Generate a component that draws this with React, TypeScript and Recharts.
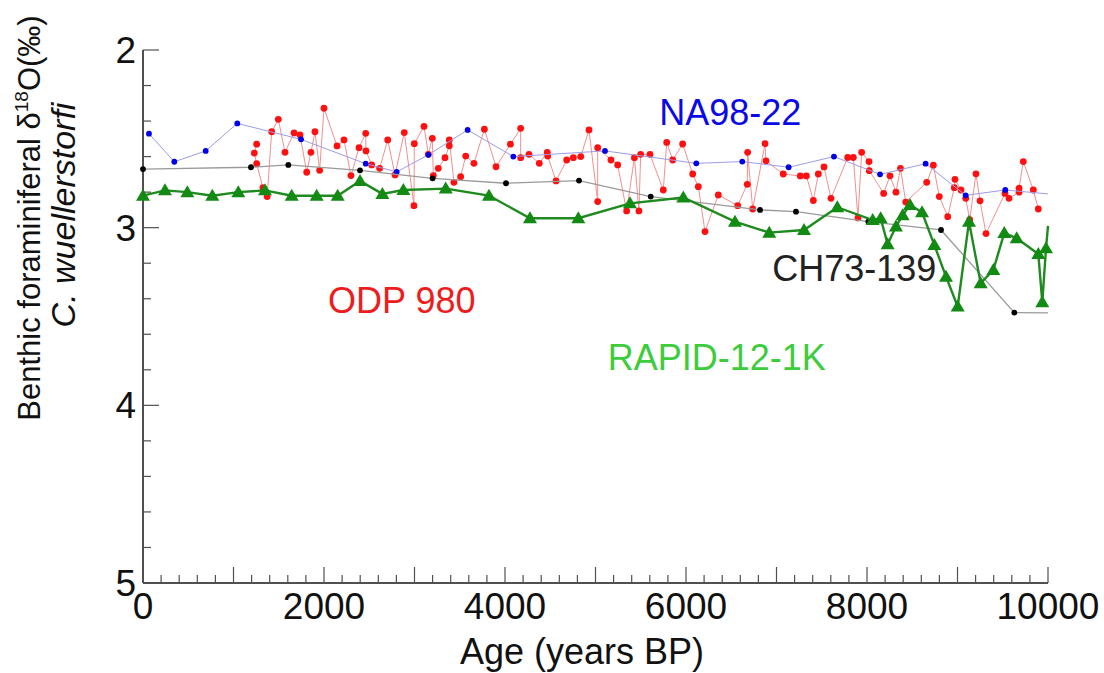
import React from "react";
import { ScatterChart, Scatter, XAxis, YAxis, ReferenceDot, Label } from "recharts";

const FONT = "'Liberation Sans', Arial, Helvetica, sans-serif";
const FRAME = "#505050";
const TEXT = "#111111";

// ODP 980 (red)
const odpAge = [
  1256, 1230, 1256, 1325, 1372, 1422, 1495, 1569, 1669, 1735, 1809, 1856, 1900, 1952, 2000,
  2144, 2221, 2298, 2387, 2461, 2464, 2527, 2615, 2704, 2785, 2887, 2994, 2998, 3105, 3153,
  3197, 3208, 3263, 3337, 3385, 3385, 3436, 3510, 3566, 3657, 3772, 3901, 4060, 4173, 4173,
  4265, 4379, 4467, 4472, 4564, 4682, 4755, 4837, 4928, 5024, 5024, 5171, 5245, 5344, 5430,
  5480, 5499, 5602, 5749, 5787, 5853, 5963, 6074, 6136, 6210, 6357, 6571, 6677, 6681, 6737,
  6873, 6884, 7075, 7263, 7330, 7407, 7462, 7525, 7602, 7787, 7849, 7900, 7941, 8022, 8025,
  8184, 8254, 8320, 8370, 8428, 8660, 8733, 8799, 8892, 8965, 8972, 9039, 9091, 9135, 9204,
  9249, 9315, 9525, 9569, 9680, 9680, 9727, 9838, 9893,
];
const odpD18O = [
  2.53, 2.58, 2.64, 2.775, 2.825, 2.46, 2.39, 2.576, 2.467, 2.478, 2.688, 2.576, 2.46, 2.677, 2.328,
  2.54, 2.506, 2.707, 2.55, 2.469, 2.568, 2.647, 2.666, 2.506, 2.703, 2.465, 2.876, 2.527, 2.43, 2.587,
  2.497, 2.707, 2.666, 2.606, 2.539, 2.506, 2.745, 2.713, 2.597, 2.638, 2.446, 2.657, 2.53, 2.441, 2.606,
  2.587, 2.638, 2.576, 2.597, 2.737, 2.619, 2.606, 2.6, 2.45, 2.853, 2.55, 2.619, 2.647, 2.906, 2.606,
  2.906, 2.587, 2.587, 2.788, 2.52, 2.619, 2.529, 2.698, 2.769, 3.022, 2.816, 2.876, 2.756, 2.576, 2.895,
  2.527, 2.624, 2.698, 2.709, 2.709, 2.847, 2.698, 2.658, 2.835, 2.605, 2.605, 2.945, 2.576, 2.628, 2.679,
  2.807, 2.708, 2.8, 2.666, 2.856, 2.745, 2.648, 2.825, 2.938, 2.775, 2.728, 2.788, 2.835, 2.955, 2.697,
  2.849, 3.033, 2.807, 2.835, 2.8, 2.778, 2.628, 2.788, 2.895,
];

// NA98-22 (blue)
const naAge = [66, 346, 693, 1042, 1746, 2461, 2803, 3153, 3587, 4092, 5105, 6114, 6622, 7134, 7635, 8144, 8648, 9090, 9528, 10000];
const naD18O = [2.471, 2.629, 2.568, 2.413, 2.503, 2.64, 2.686, 2.59, 2.45, 2.6, 2.568, 2.638, 2.628, 2.66, 2.6, 2.7, 2.64, 2.818, 2.788, 2.81];

// CH73-139 (black)
const chAge = [0, 1193, 1606, 2398, 3200, 4011, 4818, 5610, 6818, 7215, 8015, 8818, 9628, 10000];
const chD18O = [2.67, 2.66, 2.647, 2.677, 2.722, 2.75, 2.735, 2.825, 2.9, 2.91, 2.966, 3.013, 3.478, 3.48];

// RAPID-12-1K (green)
const rapidAge = [
  0, 243, 490, 766, 1053, 1348, 1643, 1919, 2151, 2398, 2645, 2877, 3345, 3823, 4276, 4810, 5381, 5970,
  6541, 6920, 7304, 7672, 8063, 8151, 8228, 8320, 8394, 8475, 8608, 8744, 8873, 9002, 9127, 9256, 9396,
  9517, 9654, 9893, 9937, 9978, 10000,
];
const rapidD18O = [
  2.82, 2.79, 2.8, 2.82, 2.8, 2.79, 2.82, 2.82, 2.82, 2.737, 2.81, 2.788, 2.78, 2.82, 2.947, 2.947, 2.863, 2.83,
  2.966, 3.028, 3.013, 2.885, 2.957, 2.947, 3.093, 2.994, 2.93, 2.872, 2.913, 3.097, 3.276, 3.444, 2.966, 3.313, 3.238,
  3.03, 3.06, 3.148, 3.42, 3.116, 2.99,
];

const ageTicks = [
  0, 200, 400, 600, 800, 1000, 1200, 1400, 1600, 1800, 2000, 2200, 2400, 2600, 2800, 3000, 3200, 3400,
  3600, 3800, 4000, 4200, 4400, 4600, 4800, 5000, 5200, 5400, 5600, 5800, 6000, 6200, 6400, 6600, 6800,
  7000, 7200, 7400, 7600, 7800, 8000, 8200, 8400, 8600, 8800, 9000, 9200, 9400, 9600, 9800, 10000,
];
const d18OTicks = [2, 2.2, 2.4, 2.6, 2.8, 3, 3.2, 3.4, 3.6, 3.8, 4, 4.2, 4.4, 4.6, 4.8, 5];

const seriesNames = ["ODP 980", "NA98-22", "CH73-139", "RAPID-12-1K"];

// where each series name sits, in data units
const nameSpots = [
  { name: "ODP 980", age: 2860, d18O: 3.41, color: "#ee1c1c" },
  { name: "NA98-22", age: 6490, d18O: 2.35, color: "#0a0ae6" },
  { name: "CH73-139", age: 7860, d18O: 3.23, color: "#222222" },
  { name: "RAPID-12-1K", age: 6340, d18O: 3.73, color: "#3ccc3c" },
];

const toPoints = (ages: number[], vals: number[]) => ages.map((age, i) => ({ age, d18O: vals[i] }));

// points at the frame edge only carry the line out, no marker
const atEdge = (p: any) => p.payload && p.payload.age >= 10000;

const dot = (r: number, fill: string) => (p: any) =>
  atEdge(p) ? <g /> : <circle cx={p.cx} cy={p.cy} r={r} fill={fill} />;

const triangle = (fill: string) => (p: any) =>
  atEdge(p) ? <g /> : (
    <polygon points={`${p.cx},${p.cy - 7} ${p.cx - 7},${p.cy + 5} ${p.cx + 7},${p.cy + 5}`} fill={fill} />
  );

const isMajorAge = (v: number) => v % 1000 === 0;
const isMajorD = (v: number) => Math.abs(v - Math.round(v)) < 1e-9;

function BottomTick({ x, y, payload }: any) {
  const v = payload.value;
  return (
    <g>
      <line x1={x} x2={x} y1={y} y2={y - (isMajorAge(v) ? 16 : 8)} stroke={FRAME} strokeWidth={1.2} />
      {v % 2000 === 0 && (
        <text x={x} y={y + 10} dy="0.71em" textAnchor="middle" fontSize={37} fill={TEXT}>{v}</text>
      )}
    </g>
  );
}

function TopTick({ x, y, payload }: any) {
  const v = payload.value;
  return <line x1={x} x2={x} y1={y} y2={y + (isMajorAge(v) ? 16 : 8)} stroke={FRAME} strokeWidth={1.2} />;
}

function LeftTick({ x, y, payload }: any) {
  const v = payload.value;
  const major = isMajorD(v);
  return (
    <g>
      <line x1={x} x2={x + (major ? 16 : 8)} y1={y} y2={y} stroke={FRAME} strokeWidth={1.2} />
      {major && (
        <text x={x - 7} y={y} dy="0.355em" textAnchor="end" fontSize={37} fill={TEXT}>{Math.round(v)}</text>
      )}
    </g>
  );
}

function RightTick({ x, y, payload }: any) {
  const v = payload.value;
  return <line x1={x} x2={x - (isMajorD(v) ? 16 : 8)} y1={y} y2={y} stroke={FRAME} strokeWidth={1.2} />;
}

const YTitle = () => (
  <g fill={TEXT}>
    <text transform="rotate(-90 40 218)" x={40} y={218} textAnchor="middle" fontSize={31}>
      Benthic foraminiferal δ<tspan dy={-12} fontSize={19}>18</tspan>
      <tspan dy={12}>O(‰)</tspan>
    </text>
    <text transform="rotate(-90 75 215)" x={75} y={215} textAnchor="middle" fontSize={34} fontStyle="italic">
      C. wuellerstorfi
    </text>
  </g>
);

const XTitle = () => (
  <text x={582} y={664} textAnchor="middle" fontSize={36} fill={TEXT}>Age (years BP)</text>
);

export default function App() {
  const axisLine = { stroke: FRAME, strokeWidth: 2 };
  return (
    <div style={{ position: "fixed", top: 0, left: 0, fontFamily: FONT, background: "#fff" }}>
      <ScatterChart width={1104} height={673} margin={{ top: 50, right: 56, bottom: 0, left: 0 }}>
        <XAxis xAxisId="age" type="number" dataKey="age" domain={[0, 10000]} ticks={ageTicks} interval={0}
          height={90} tickSize={0} tickMargin={0} tickLine={false} axisLine={axisLine} tick={BottomTick}>
          <Label content={XTitle} />
        </XAxis>
        <XAxis xAxisId="top" orientation="top" type="number" domain={[0, 10000]} ticks={ageTicks} interval={0}
          height={0} tickSize={0} tickMargin={0} tickLine={false} axisLine={axisLine} tick={TopTick} allowDataOverflow />
        <YAxis yAxisId="d18O" type="number" dataKey="d18O" domain={[2, 5]} reversed ticks={d18OTicks} interval={0}
          width={143} tickSize={0} tickMargin={0} tickLine={false} axisLine={axisLine} tick={LeftTick}>
          <Label content={YTitle} />
        </YAxis>
        <YAxis yAxisId="right" orientation="right" type="number" domain={[2, 5]} reversed ticks={d18OTicks} interval={0}
          width={0} tickSize={0} tickMargin={0} tickLine={false} axisLine={axisLine} tick={RightTick} allowDataOverflow />

        <Scatter name={seriesNames[0]} data={toPoints(odpAge, odpD18O)} xAxisId="age" yAxisId="d18O"
          line={{ stroke: "#f29090", strokeWidth: 1 }} shape={dot(3.4, "#ff1010")} isAnimationActive={false} />
        <Scatter name={seriesNames[1]} data={toPoints(naAge, naD18O)} xAxisId="age" yAxisId="d18O"
          line={{ stroke: "#9c9ce6", strokeWidth: 1 }} shape={dot(2.9, "#0000e6")} isAnimationActive={false} />
        <Scatter name={seriesNames[2]} data={toPoints(chAge, chD18O)} xAxisId="age" yAxisId="d18O"
          line={{ stroke: "#9a9a9a", strokeWidth: 1.3 }} shape={dot(2.9, "#000000")} isAnimationActive={false} />
        <Scatter name={seriesNames[3]} data={toPoints(rapidAge, rapidD18O)} xAxisId="age" yAxisId="d18O"
          line={{ stroke: "#1f8a1f", strokeWidth: 2.4 }} shape={triangle("#138a13")} isAnimationActive={false} />

        {nameSpots.map((s) => (
          <ReferenceDot key={s.name} xAxisId="age" yAxisId="d18O" x={s.age} y={s.d18O} r={0}
            fill="none" stroke="none"
            label={{ value: s.name, position: "center", fill: s.color, fontSize: 36 }} />
        ))}
      </ScatterChart>
    </div>
  );
}
